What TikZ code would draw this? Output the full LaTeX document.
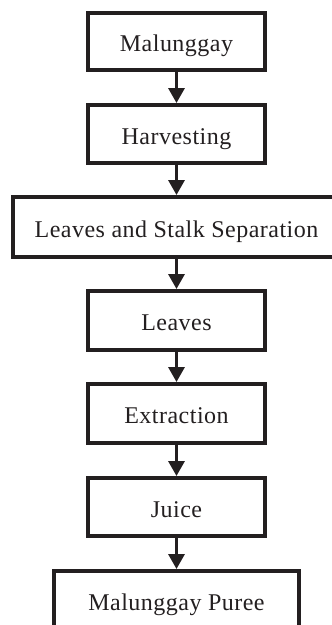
\documentclass[tikz,border=0pt]{standalone}
\usepackage{fontspec}
\setmainfont{Liberation Serif}[LetterSpace=2]
\usetikzlibrary{arrows.meta}
\definecolor{ink}{HTML}{231F20}
\begin{document}
\begin{tikzpicture}[x=1pt,y=1pt,
  stepbox/.style={draw=ink, line width=4pt, text=ink,
    font=\fontsize{24}{28}\selectfont, inner sep=0pt,
    text height=21pt, text depth=0.5pt,
    minimum width=177pt, minimum height=58pt},
  flow/.style={draw=ink, line width=3.3pt, -{Triangle[width=16pt,length=15pt]}}]
\useasboundingbox (0,0) rectangle (332,-625);
\clip (0,0) rectangle (332,-625);
\node[stepbox, minimum height=57pt] (a) at (176.5,-41.5) {Malunggay};
\node[stepbox] (b) at (176.5,-134) {Harvesting};
\node[stepbox, minimum width=327pt, minimum height=60pt] (c) at (176.5,-227) {Leaves and Stalk Separation};
\node[stepbox, minimum height=59pt] (d) at (176.5,-320.5) {Leaves};
\node[stepbox, minimum height=59pt] (e) at (176.5,-413.5) {Extraction};
\node[stepbox] (f) at (176.5,-507) {Juice};
\node[stepbox, minimum width=245pt] (g) at (176.5,-600) {Malunggay Puree};
\draw[flow] (a) -- (b);
\draw[flow] (b) -- (c);
\draw[flow] (c) -- (d);
\draw[flow] (d) -- (e);
\draw[flow] (e) -- (f);
\draw[flow] (f) -- (g);
\end{tikzpicture}
\end{document}
